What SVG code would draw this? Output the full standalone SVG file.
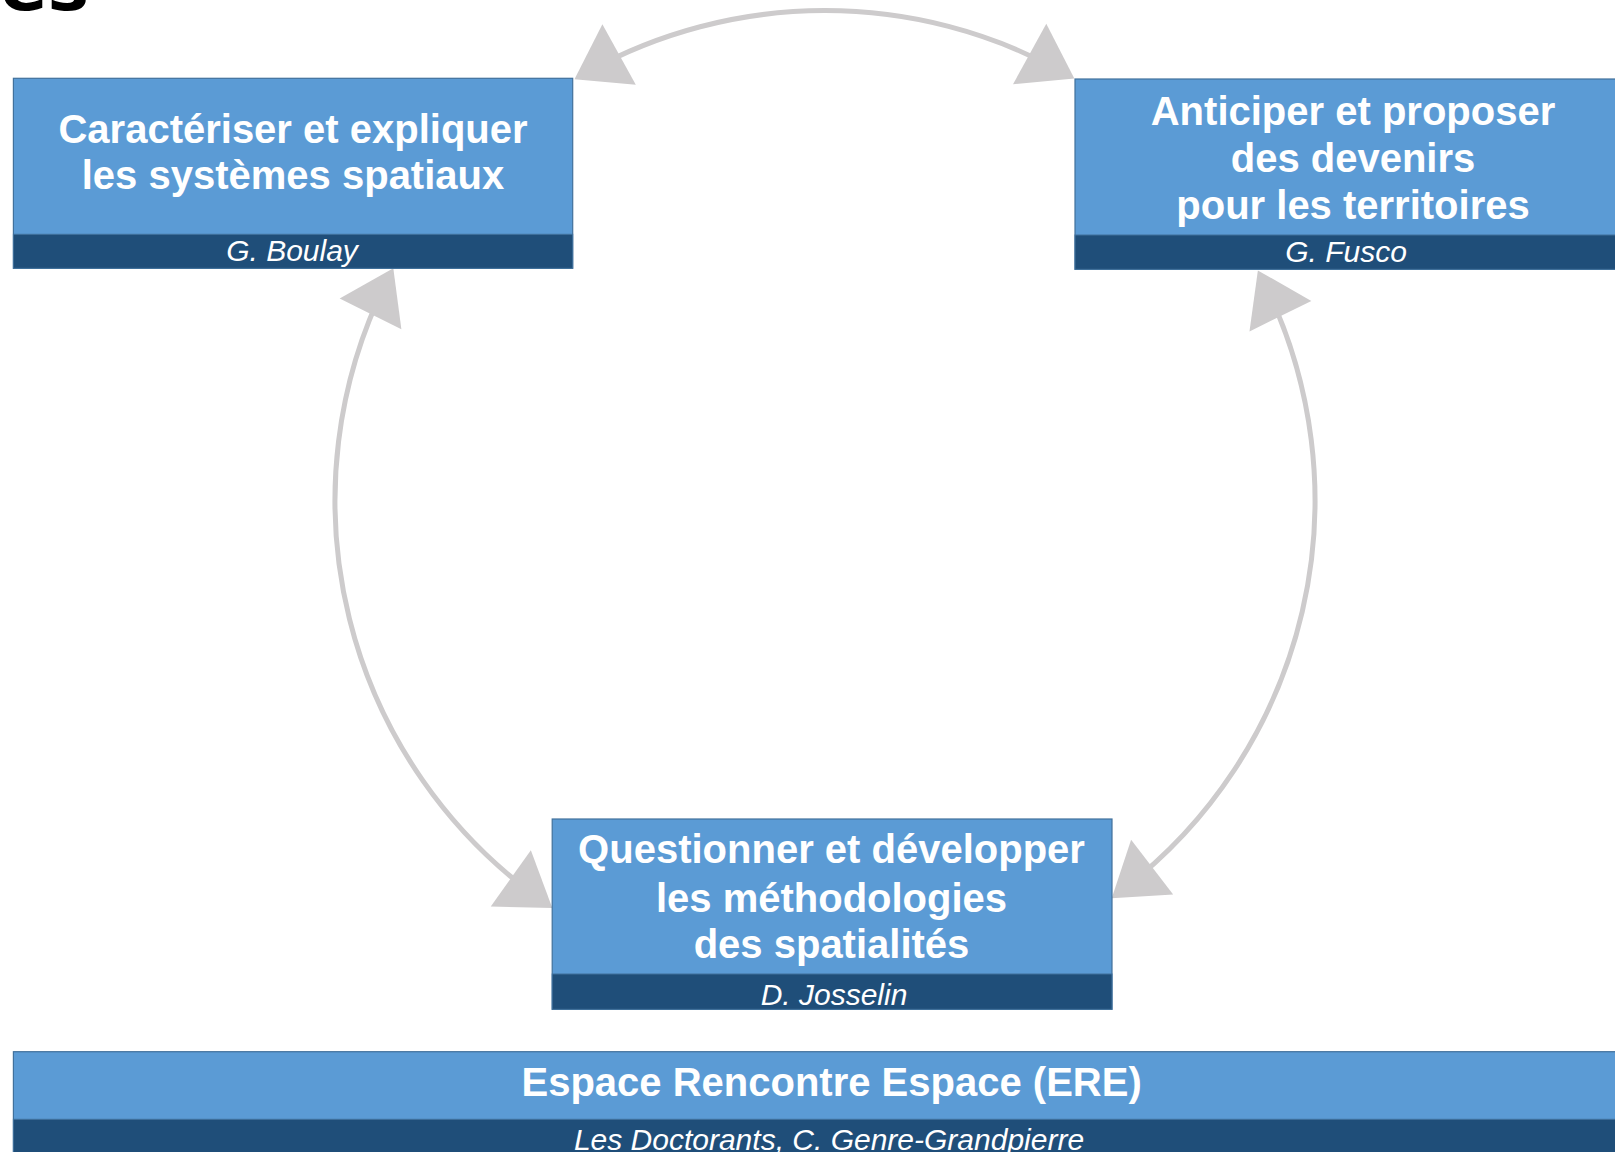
<svg xmlns="http://www.w3.org/2000/svg" width="1615" height="1152" viewBox="0 0 1615 1152">
  <style>
    .box { fill: #5B9BD5; stroke: #41719C; stroke-width: 1.2; }
    .band { fill: #1F4E79; stroke: #41719C; stroke-width: 1; }
    .title { font-family: "Liberation Sans", Arial, sans-serif; font-weight: bold; font-size: 40px; fill: #FFFFFF; text-anchor: middle; }
    .author { font-family: "Liberation Sans", Arial, sans-serif; font-style: italic; font-size: 30px; fill: #FFFFFF; text-anchor: middle; }
    .conn { fill: none; stroke: #CDCBCC; stroke-width: 5; marker-start: url(#head); marker-end: url(#head); }
  </style>
  <defs>
    <marker id="head" markerUnits="userSpaceOnUse" viewBox="-40 -36 58 72" refX="0" refY="0" markerWidth="58" markerHeight="72" orient="auto-start-reverse">
      <path d="M15,0 L-36,-34.5 L-36,34.5 Z" fill="#CDCBCC"/>
    </marker>
  </defs>
  <rect x="0" y="0" width="1615" height="1152" fill="#FFFFFF"/>

  <text x="0" y="9.5" font-family="DejaVu Sans, sans-serif" font-weight="bold" font-size="70" fill="#000000">es</text>

  <g id="connectors">
    <path class="conn" d="M587.6,71.9 A490,490 0 0 1 1061.2,71.3"/>
    <path class="conn" d="M386.6,281.7 A490,490 0 0 0 540.1,899.3"/>
    <path class="conn" d="M1264.5,283.9 A490,490 0 0 1 1123.6,889.1"/>
  </g>

  <g id="node-caracteriser">
    <rect class="box" x="13.4" y="78.3" width="559.3" height="190"/>
    <rect class="band" x="13.4" y="234.3" width="559.3" height="34"/>
    <text class="title" x="293" y="142.7">Caractériser et expliquer</text>
    <text class="title" x="293" y="189.3">les systèmes spatiaux</text>
    <text class="author" x="292" y="260.5">G. Boulay</text>
  </g>

  <g id="node-anticiper">
    <rect class="box" x="1075" y="79" width="560" height="190.3"/>
    <rect class="band" x="1075" y="235" width="560" height="34.3"/>
    <text class="title" x="1353" y="125">Anticiper et proposer</text>
    <text class="title" x="1353" y="171.7">des devenirs</text>
    <text class="title" x="1353" y="219">pour les territoires</text>
    <text class="author" x="1346" y="262">G. Fusco</text>
  </g>

  <g id="node-questionner">
    <rect class="box" x="552.2" y="819" width="559.8" height="190.3"/>
    <rect class="band" x="552.2" y="974" width="559.8" height="35.3"/>
    <text class="title" x="831.5" y="863.3">Questionner et développer</text>
    <text class="title" x="831.5" y="911.7">les méthodologies</text>
    <text class="title" x="831.5" y="958.3">des spatialités</text>
    <text class="author" x="834" y="1004.5">D. Josselin</text>
  </g>

  <g id="node-ere">
    <rect class="box" x="13.4" y="1051.7" width="1640" height="120"/>
    <rect class="band" x="13.4" y="1119.3" width="1640" height="60"/>
    <text class="title" x="831.6" y="1096">Espace Rencontre Espace (ERE)</text>
    <text class="author" x="829" y="1149.5">Les Doctorants, C. Genre-Grandpierre</text>
  </g>
</svg>
